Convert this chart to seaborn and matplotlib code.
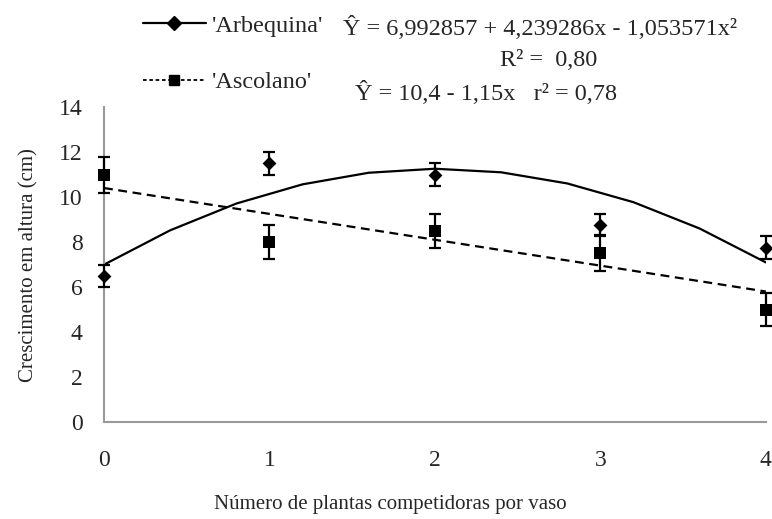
import numpy as np
import pandas as pd
import matplotlib
matplotlib.use("Agg")
import matplotlib.pyplot as plt
from matplotlib.lines import Line2D
import seaborn as sns

# Observed means and error bars
competitors = [0, 1, 2, 3, 4]
arbequina_mean = [6.5, 11.5, 11.0, 8.75, 7.75]
arbequina_err = [0.5, 0.5, 0.5, 0.5, 0.5]
ascolano_mean = [11.0, 8.0, 8.5, 7.5, 5.0]
ascolano_err = [0.8, 0.75, 0.75, 0.8, 0.75]

# Regression coefficients printed on the chart
arb_coef = [6.992857, 4.239286, -1.053571]
asc_coef = [10.4, -1.15]

x_ticks = [0, 1, 2, 3, 4]
y_ticks = [0, 2, 4, 6, 8, 10, 12, 14]

sns.set_theme(style="white")
plt.rcParams["font.family"] = ["Liberation Serif", "DejaVu Serif"]

fig = plt.figure(figsize=(7.72, 5.19), dpi=100)
ax = fig.add_axes([0.1347, 0.1869, 0.8573, 0.6069])

# Fitted curves evaluated from the printed equations
xf = np.linspace(0, 4, 11)
fits = pd.DataFrame({
    "x": np.concatenate([xf, xf]),
    "y": np.concatenate([
        arb_coef[0] + arb_coef[1] * xf + arb_coef[2] * xf ** 2,
        asc_coef[0] + asc_coef[1] * xf,
    ]),
    "cultivar": ["Arbequina"] * len(xf) + ["Ascolano"] * len(xf),
})
sns.lineplot(data=fits[fits.cultivar == "Arbequina"], x="x", y="y", ax=ax,
             color="black", lw=1.6, legend=False)
sns.lineplot(data=fits[fits.cultivar == "Ascolano"], x="x", y="y", ax=ax,
             color="black", lw=1.6, dashes=False, legend=False,
             linestyle=(0, (4, 2.5)))

# Observed points with error bars
for mean, err in [(arbequina_mean, arbequina_err), (ascolano_mean, ascolano_err)]:
    ax.errorbar(competitors, mean, yerr=err, fmt="none", ecolor="black",
                elinewidth=1.6, capsize=4.6, capthick=1.6, clip_on=False,
                zorder=3)
pts = pd.DataFrame({
    "x": competitors + competitors,
    "y": arbequina_mean + ascolano_mean,
    "cultivar": ["Arbequina"] * 5 + ["Ascolano"] * 5,
})
sns.scatterplot(data=pts[pts.cultivar == "Arbequina"], x="x", y="y", ax=ax,
                marker="D", s=50, color="black", edgecolor="black",
                linewidth=0, clip_on=False, zorder=4, legend=False)
sns.scatterplot(data=pts[pts.cultivar == "Ascolano"], x="x", y="y", ax=ax,
                marker="s", s=85, color="black", edgecolor="black",
                linewidth=0, clip_on=False, zorder=4, legend=False)

ax.set_xlim(0, 4)
ax.set_ylim(0, 14)
ax.set_xticks(x_ticks)
ax.set_yticks(y_ticks)
ax.tick_params(axis="both", labelsize=17, length=5, width=1.2,
               color="#999999", direction="out")
ax.tick_params(axis="y", pad=10.5)
ax.tick_params(axis="x", pad=15)
for side in ["top", "right"]:
    ax.spines[side].set_visible(False)
for side in ["left", "bottom"]:
    ax.spines[side].set_color("#999999")
    ax.spines[side].set_linewidth(1.5)

ax.set_xlabel("Número de plantas competidoras por vaso", fontsize=15,
              va="center")
ax.xaxis.set_label_coords(0.432, -0.2635)
ax.set_ylabel("Crescimento em altura (cm)", fontsize=15, va="center")
ax.yaxis.set_label_coords(-0.1135, 0.498)

# Legend entries with their regression equations
h_arb = Line2D([], [], color="black", lw=1.6, marker="D", markersize=7)
h_asc = Line2D([], [], color="black", lw=1.3, linestyle=(0, (2, 1.5)),
               marker="s", markersize=7)
leg_kw = dict(loc="center left", frameon=False, fontsize=17.5,
              handlelength=2.6, handletextpad=0.25, borderaxespad=0,
              borderpad=0)
fig.legend([h_arb], ["'Arbequina'"], bbox_to_anchor=(0.185, 0.950), **leg_kw)
fig.legend([h_asc], ["'Ascolano'"], bbox_to_anchor=(0.185, 0.842), **leg_kw)

fig.text(343 / 772, 0.9326, "Ŷ = 6,992857 + 4,239286x - 1,053571x²",
         fontsize=17.5, va="baseline", ha="left")
fig.text(549 / 772, 0.873, "R² =  0,80", fontsize=17.5,
         va="baseline", ha="center")
fig.text(355 / 772, 0.807, "Ŷ = 10,4 - 1,15x   r² = 0,78",
         fontsize=17.5, va="baseline", ha="left")

fig.savefig("out.png", dpi=100)
